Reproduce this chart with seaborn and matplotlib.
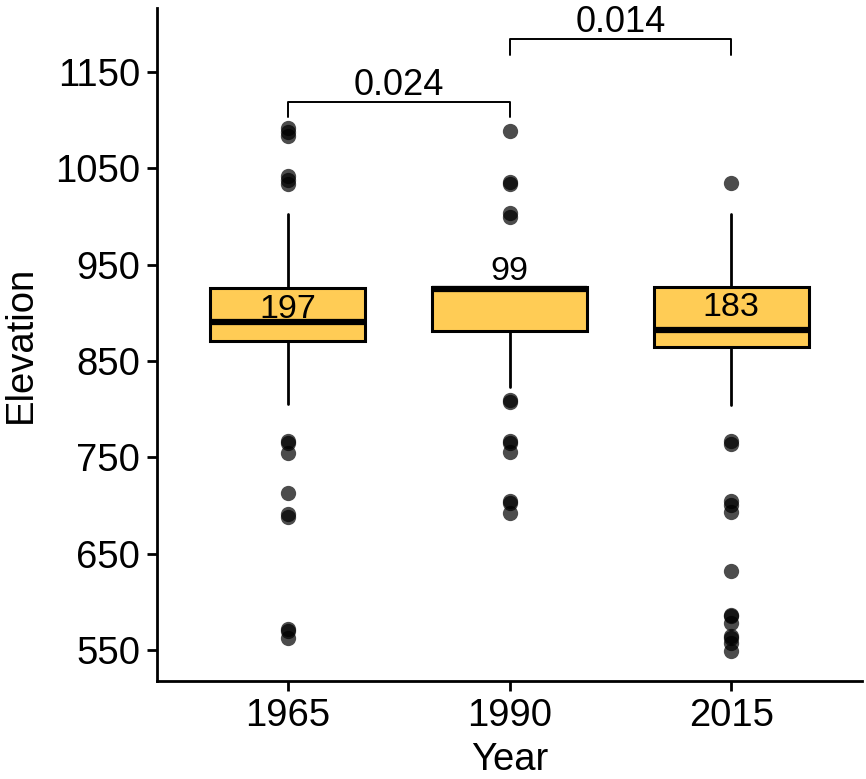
import matplotlib
matplotlib.use("Agg")
import matplotlib.pyplot as plt
import numpy as np
import pandas as pd
import seaborn as sns

# Summary statistics per survey year
years = ["1965", "1990", "2015"]
counts = [197, 99, 183]
q1 = [871, 881, 865]
medians = [890, 925, 882]
q3 = [926, 927, 927]
whisker_low = [805, 823, 804]
whisker_high = [1003, 927, 1003]

# Points beyond the whiskers
outliers_1965 = [1092, 1088, 1084, 1042, 1038, 1034, 767, 765, 755, 713, 691, 688, 572, 570, 562]
outliers_1990 = [1089, 1036, 1034, 1004, 999, 809, 807, 767, 765, 756, 705, 703, 692]
outliers_2015 = [1035, 767, 764, 705, 700, 693, 632, 586, 585, 578, 564, 562, 557, 549]

# Pairwise comparisons (left group, right group, p-value)
comparisons = [("1965", "1990", "0.024"), ("1990", "2015", "0.014")]

# Layout: label baselines and bracket heights in data units
count_label_y = [895, 934, 897]
bracket_y = [1119, 1184]
bracket_drop = 16
bracket_text_gap = 7

sns.set_theme(style="ticks")
plt.rcParams["font.family"] = ["Liberation Sans", "DejaVu Sans"]

fig = plt.figure(figsize=(8.66, 7.79), dpi=100)
ax = fig.add_axes([0.1813, 0.1258, 0.8141, 0.8639])

stats = []
for i, yr in enumerate(years):
    stats.append(dict(label=yr, q1=q1[i], med=medians[i], q3=q3[i],
                      whislo=whisker_low[i], whishi=whisker_high[i], fliers=[]))

ax.bxp(stats, positions=range(len(years)), widths=0.7, patch_artist=True,
       showcaps=False, showfliers=False,
       boxprops=dict(facecolor="#FFCC55", edgecolor="black", linewidth=2.2),
       medianprops=dict(color="black", linewidth=4.5, solid_capstyle="butt"),
       whiskerprops=dict(color="black", linewidth=2.0))

out_df = pd.DataFrame({
    "Year": (["1965"] * len(outliers_1965) + ["1990"] * len(outliers_1990)
             + ["2015"] * len(outliers_2015)),
    "Elevation": outliers_1965 + outliers_1990 + outliers_2015,
})
sns.stripplot(data=out_df, x="Year", y="Elevation", order=years, jitter=False,
              color="black", alpha=0.7, size=11, linewidth=0, ax=ax, zorder=3)

for i, n in enumerate(counts):
    ax.text(i, count_label_y[i], str(n), ha="center", va="baseline",
            fontsize=24.5, color="black", zorder=4)

for (a, b, p), yb in zip(comparisons, bracket_y):
    xa, xb = years.index(a), years.index(b)
    ax.plot([xa, xa, xb, xb], [yb - bracket_drop, yb, yb, yb - bracket_drop],
            color="black", linewidth=1.4, clip_on=False)
    ax.text((xa + xb) / 2, yb + bracket_text_gap, p, ha="center", va="baseline",
            fontsize=26, color="black")

ax.set_xlim(-0.59, 2.59)
ax.set_ylim(517.8, 1216.4)
ax.set_xticks(range(len(years)))
ax.set_xticklabels(years)
ax.set_yticks([550, 650, 750, 850, 950, 1050, 1150])
ax.tick_params(axis="both", labelsize=27.5, width=2, length=7, color="black",
               labelcolor="black", pad=5)
for side in ["top", "right"]:
    ax.spines[side].set_visible(False)
for side in ["left", "bottom"]:
    ax.spines[side].set_linewidth(2)
    ax.spines[side].set_color("black")
ax.set_xlabel("Year", fontsize=27.5, color="black", labelpad=6)
ax.set_ylabel("Elevation", fontsize=27.5, color="black", labelpad=12)

fig.savefig("out.png", dpi=100)
